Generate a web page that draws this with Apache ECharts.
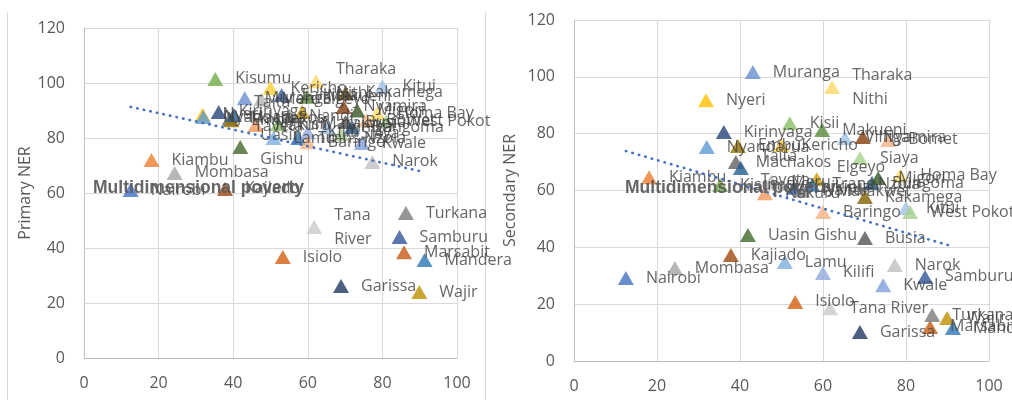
<!DOCTYPE html>
<html>
<head>
<meta charset="utf-8">
<script src="https://cdn.jsdelivr.net/npm/echarts@6/dist/echarts.min.js"></script>
<style>
  html, body { margin: 0; padding: 0; background: #fff; }
  #chart { width: 1012px; height: 400px; }
</style>
</head>
<body>
<div id="chart"></div>
<script>
// counties, ordered by multidimensional poverty (x)
const counties = [
  'Nairobi', 'Kiambu', 'Mombasa', 'Nyeri', 'Nyandarua', 'Kisumu', 'Kirinyaga', 'Kajiado',
  'Machakos', 'Embu', 'Taita Taveta', 'Uasin Gishu', 'Muranga', 'Nakuru', 'Meru', 'Kericho',
  'Lamu', 'Kisii', 'Laikipia', 'Isiolo', 'Nandi', 'Elgeyo Marakwet', 'Trans Nzoia', 'Makueni',
  'Kilifi', 'Baringo', 'Tana River', 'Tharaka Nithi', 'Vihiga', 'Siaya', 'Garissa', 'Nyamira',
  'Busia', 'Kakamega', 'Bungoma', 'Migori', 'Kwale', 'Bomet', 'Narok', 'Homa Bay',
  'Kitui', 'West Pokot', 'Samburu', 'Marsabit', 'Turkana', 'Wajir', 'Mandera'
]
const poverty = [
  12.5, 18.1, 24.3, 31.8, 32.0, 35.2, 36.1, 37.8,
  39.0, 39.5, 40.2, 41.9, 43.1, 46.0, 47.5, 50.0,
  50.8, 52.0, 53.0, 53.3, 55.0, 58.5, 57.4, 59.8,
  60.0, 60.0, 61.7, 62.2, 65.3, 68.9, 68.9, 69.6,
  70.1, 70.1, 71.8, 73.3, 74.5, 75.7, 77.3, 78.6,
  80.0, 81.0, 84.6, 85.8, 86.3, 89.9, 91.3
]
const primaryNER = [
  61.1, 72.0, 67.3, 88.5, 87.6, 101.5, 89.5, 61.5,
  87.0, 86.5, 88.4, 76.7, 94.5, 84.7, 94.0, 98.2,
  80.0, 85.0, 95.6, 36.7, 88.0, 89.5, 80.0, 95.0,
  82.0, 78.5, 47.6, 100.6, 84.0, 81.5, 26.2, 91.3,
  85.8, 96.4, 84.0, 90.0, 78.2, 86.5, 71.3, 89.0,
  98.8, 86.0, 44.0, 38.5, 52.7, 24.0, 35.6
]
const secondaryNER = [
  29.2, 64.7, 32.7, 91.8, 75.3, 61.9, 80.6, 37.3,
  70.0, 75.7, 67.9, 44.3, 101.7, 59.0, 63.0, 76.0,
  34.8, 83.7, 61.0, 20.8, 60.0, 64.0, 62.0, 81.3,
  31.0, 52.4, 18.6, 96.4, 78.5, 71.4, 10.2, 78.8,
  43.3, 57.7, 62.6, 64.4, 26.7, 77.8, 33.8, 65.4,
  53.8, 52.4, 29.6, 12.0, 16.2, 15.1, 11.6
]
const pointColors = [
  '#4472C4', '#ED7D31', '#A5A5A5', '#FFC000', '#5B9BD5', '#70AD47', '#264478', '#9E480E',
  '#636363', '#997300', '#255E91', '#43682B', '#698ED0', '#F1975A', '#B7B7B7', '#FFCD33',
  '#7CAFDD', '#8CC168', '#335AA1', '#D26012', '#848484', '#CC9A00', '#3275B4', '#5A8A39',
  '#8FAADC', '#F4B183', '#C9C9C9', '#FFD966', '#9DC3E6', '#A9D18E', '#203864', '#843C0C',
  '#525252', '#7F6000', '#1F4E79', '#375623', '#7F9FDB', '#F4B183', '#C0C0C0', '#FFD966',
  '#9DC3E6', '#A9D18E', '#2F5597', '#C55A11', '#7B7B7B', '#BF9000', '#2E75B6'
]
// wrapped data labels per panel
const primaryWrapped = ['Tana River', 'Tharaka Nithi', 'Uasin Gishu', 'Taita Taveta', 'Elgeyo Marakwet']
const secondaryWrapped = ['Tharaka Nithi', 'Taita Taveta', 'Elgeyo Marakwet']
// dotted linear trend lines, end points
const primaryTrend = [[12.5, 91.3], [91.3, 67.6]]
const secondaryTrend = [[12.5, 73.9], [91.3, 40.3]]

const xTicks = { min: 0, max: 100, interval: 20 }
const yTicks = { min: 0, max: 120, interval: 20 }

const labelFont = '"Open Sans", "DejaVu Sans", sans-serif'

function buildPoints(values, wrapped) {
  return counties.map((name, i) => ({
    name: wrapped.includes(name) ? name.replace(' ', '\n') : name,
    value: [poverty[i], values[i]],
    itemStyle: { color: pointColors[i] }
  }))
}

function xAxis(idx) {
  return {
    gridIndex: idx, type: 'value', min: xTicks.min, max: xTicks.max, interval: xTicks.interval,
    axisLine: { show: true, lineStyle: { color: '#BFBFBF' } },
    axisTick: { show: false },
    splitLine: { show: true, lineStyle: { color: '#D9D9D9' } },
    axisLabel: { color: '#595959', fontSize: 16, fontFamily: labelFont, margin: 17 }
  }
}

function yAxis(idx, name, gap) {
  return {
    gridIndex: idx, type: 'value', min: yTicks.min, max: yTicks.max, interval: yTicks.interval,
    name: name, nameLocation: 'middle', nameGap: gap,
    nameTextStyle: { color: '#595959', fontSize: 16, fontFamily: labelFont },
    axisLine: { show: true, lineStyle: { color: '#BFBFBF' } },
    axisTick: { show: false },
    splitLine: { show: true, lineStyle: { color: '#D9D9D9' } },
    axisLabel: { color: '#595959', fontSize: 16, fontFamily: labelFont, margin: 19 }
  }
}

function scatter(idx, values, wrapped) {
  return {
    type: 'scatter', xAxisIndex: idx, yAxisIndex: idx,
    symbol: 'triangle', symbolSize: [16, 14], z: 2,
    data: buildPoints(values, wrapped),
    label: {
      show: true, position: 'right', distance: 12,
      formatter: '{b}', color: '#404040', fontSize: 16, fontFamily: labelFont, lineHeight: 24
    }
  }
}

function trend(idx, pts) {
  return {
    type: 'line', xAxisIndex: idx, yAxisIndex: idx, data: pts,
    showSymbol: false, silent: true, z: 3,
    lineStyle: { color: '#4472C4', width: 2.6, type: [0.5, 6.2], cap: 'round' }
  }
}

const chart = echarts.init(document.getElementById('chart'))
chart.setOption({
  animation: false,
  grid: [
    { left: 84, top: 28, width: 373, height: 330 },
    { left: 574, top: 20, width: 415, height: 341 }
  ],
  xAxis: [xAxis(0), xAxis(1)],
  yAxis: [yAxis(0, 'Primary NER', 50), yAxis(1, 'Secondary NER', 56)],
  series: [
    scatter(0, primaryNER, primaryWrapped),
    trend(0, primaryTrend),
    scatter(1, secondaryNER, secondaryWrapped),
    trend(1, secondaryTrend)
  ],
  graphic: [
    { type: 'line', shape: { x1: 7.5, y1: 12, x2: 7.5, y2: 400 }, style: { stroke: '#D9D9D9', lineWidth: 1 } },
    { type: 'line', shape: { x1: 485.5, y1: 12, x2: 485.5, y2: 400 }, style: { stroke: '#D9D9D9', lineWidth: 1 } },
    {
      type: 'text', left: 93, top: 179, z: 10,
      style: { text: 'Multidimensional poverty', fill: 'rgba(89,89,89,0.92)', font: 'bold 17.5px "Liberation Sans", Arial, sans-serif' }
    },
    {
      type: 'text', left: 625, top: 179, z: 10,
      style: { text: 'Multidimensional poverty', fill: 'rgba(89,89,89,0.92)', font: 'bold 17.5px "Liberation Sans", Arial, sans-serif' }
    }
  ]
})
</script>
</body>
</html>
